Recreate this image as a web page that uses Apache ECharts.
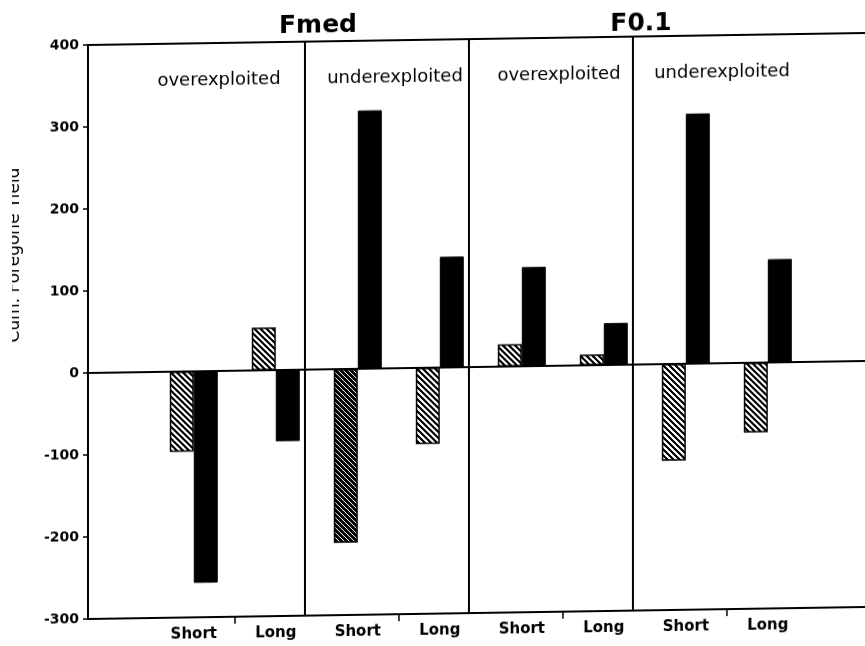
<!DOCTYPE html>
<html>
<head>
<meta charset="utf-8">
<script src="https://cdn.jsdelivr.net/npm/echarts@6/dist/echarts.min.js"></script>
<style>
  html, body { margin: 0; padding: 0; background: #fff; overflow: hidden; }
  /* the printed figure leans slightly: horizontal rules rise to the right */
  #chart { width: 900px; height: 646px; transform: skewY(-0.885deg); transform-origin: 88px 0; }
</style>
</head>
<body>
<div id="chart"></div>
<script>
// Cumulative foregone yield, short vs long term, under two reference points
const categories = ['Short', 'Long', 'Short', 'Long', 'Short', 'Long', 'Short', 'Long'];
const panelLabels = ['overexploited', 'underexploited', 'overexploited', 'underexploited'];
const groupTitles = ['Fmed', 'F0.1'];
const hatchedValues = [-98, 52, -212, -93, 27, 13, -118, -85];
const solidValues = [-258, -87, 315, 135, 121, 51, 305, 126];
const yTickLabels = ['-300', '-200', '-100', '0', '100', '200', '300', '400'];
const yAxisTitle = 'Cum. Foregone Yield';

// diagonal "\" hatching tile
function hatchTile(period, ink) {
  const c = document.createElement('canvas');
  c.width = period; c.height = period;
  const g = c.getContext('2d');
  g.fillStyle = '#fff';
  g.fillRect(0, 0, period, period);
  g.fillStyle = '#000';
  for (let y = 0; y < period; y++) {
    for (let x = 0; x < period; x++) {
      if ((((x - y) % period) + period) % period < ink) g.fillRect(x, y, 1, 1);
    }
  }
  return c;
}

const hatch = { image: hatchTile(6, 3), repeat: 'repeat' };
const hatchDense = { image: hatchTile(5, 4), repeat: 'repeat' };

const slots = categories.map((_, i) => i);
const panelEdges = [1.5, 3.5, 5.5];
const panelCentres = [0.5, 2.5, 4.5, 6.5];

const FONT = '"DejaVu Sans", "Liberation Sans", sans-serif';

const chart = echarts.init(document.getElementById('chart'), null, { renderer: 'canvas' });

const hatchedData = hatchedValues.map((v, i) => {
  const item = { value: [slots[i], v] };
  if (i === 2) item.itemStyle = { color: hatchDense };
  return item;
});

function textEl(text, x, y, font, extra) {
  return Object.assign({
    type: 'text',
    z: 100,
    style: {
      text: text, x: x, y: y, font: font, fill: '#000',
      textAlign: 'center', align: 'center',
      textVerticalAlign: 'middle', verticalAlign: 'middle'
    }
  }, extra || {});
}

chart.setOption({
  animation: false,
  backgroundColor: '#fff',
  grid: {
    left: 88, right: 5, top: 45, bottom: 27,
    show: true, borderColor: '#000', borderWidth: 2, backgroundColor: 'transparent'
  },
  xAxis: {
    type: 'value',
    min: -1.29,
    max: 8.55,
    splitLine: { show: false },
    axisLine: { show: true, onZero: false, lineStyle: { color: '#000', width: 2 } },
    axisTick: {
      show: true, inside: false, length: 7,
      customValues: panelCentres,
      lineStyle: { color: '#000', width: 1.5 }
    },
    axisLabel: {
      show: true,
      customValues: slots,
      margin: 10,
      color: '#000',
      fontFamily: FONT,
      fontSize: 15,
      fontWeight: 'bold',
      formatter: v => categories[Math.round(v)] || ''
    }
  },
  yAxis: {
    type: 'value',
    min: -300, max: 400, interval: 100,
    splitLine: { show: false },
    axisLine: { show: true, onZero: false, lineStyle: { color: '#000', width: 2 } },
    axisTick: { show: true, length: 5, lineStyle: { color: '#000', width: 1.5 } },
    axisLabel: {
      color: '#000', fontFamily: FONT, fontSize: 14, fontWeight: 'bold', margin: 9,
      formatter: v => yTickLabels[Math.round((v + 300) / 100)]
    }
  },
  series: [
    {
      type: 'bar',
      name: 'hatched',
      data: hatchedData,
      barWidth: 24,
      barGap: '0%',
      itemStyle: { color: hatch, borderColor: '#000', borderWidth: 1.5 },
      markLine: {
        silent: true,
        symbol: ['none', 'none'],
        label: { show: false },
        lineStyle: { color: '#000', width: 2, type: 'solid' },
        data: panelEdges.map(x => ({ xAxis: x })).concat([{ yAxis: 0 }])
      }
    },
    {
      type: 'bar',
      name: 'solid',
      data: solidValues.map((v, i) => [slots[i], v]),
      barWidth: 24,
      barGap: '0%',
      itemStyle: { color: '#000', borderColor: '#000', borderWidth: 1 }
    }
  ],
  graphic: [
    textEl(groupTitles[0], 318, 29, 'bold 25px ' + FONT),
    textEl(groupTitles[1], 641, 32, 'bold 25px ' + FONT),
    textEl(panelLabels[0], 219, 82, '18px ' + FONT),
    textEl(panelLabels[1], 395, 82, '18px ' + FONT),
    textEl(panelLabels[2], 559, 82, '18px ' + FONT),
    textEl(panelLabels[3], 722, 82, '18px ' + FONT),
    textEl(yAxisTitle, 15, 254, '17px ' + FONT, { rotation: Math.PI / 2, x: 0, y: 0, originX: 15, originY: 254 }),
    {
      type: 'rect', z: 101,
      shape: { x: 0, y: 140, width: 12, height: 230 },
      style: { fill: '#fff' }
    }
  ]
});
</script>
</body>
</html>
